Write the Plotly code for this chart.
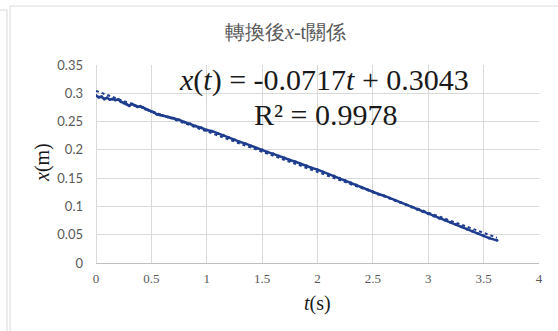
import plotly.graph_objects as go

# ---- data ----
t_s = [0.000, 0.025, 0.050, 0.075, 0.100, 0.125, 0.150, 0.175, 0.200, 0.225,
       0.250, 0.275, 0.300, 0.325, 0.350, 0.375, 0.400, 0.425, 0.450, 0.475,
       0.500, 0.525, 0.550, 0.575, 0.600,
       0.65, 0.70, 0.75, 0.80, 0.85, 0.90, 0.95, 1.00, 1.05, 1.10, 1.15, 1.20,
       1.25, 1.30, 1.35, 1.40, 1.45, 1.50, 1.55, 1.60, 1.65, 1.70, 1.75, 1.80,
       1.85, 1.90, 1.95, 2.00, 2.05, 2.10, 2.15, 2.20, 2.25, 2.30, 2.35, 2.40,
       2.45, 2.50, 2.55, 2.60, 2.65, 2.70, 2.75, 2.80, 2.85, 2.90, 2.95, 3.00,
       3.05, 3.10, 3.15, 3.20, 3.25, 3.30, 3.35, 3.40, 3.45, 3.50, 3.55, 3.62]
x_m = [0.296, 0.293, 0.294, 0.290, 0.292, 0.289, 0.290, 0.288, 0.289, 0.285,
       0.283, 0.281, 0.278, 0.281, 0.279, 0.276, 0.277, 0.275, 0.272, 0.270,
       0.268, 0.266, 0.263, 0.262, 0.261,
       0.258, 0.256, 0.253, 0.249, 0.246, 0.242, 0.239, 0.235, 0.233, 0.229,
       0.226, 0.222, 0.218, 0.214, 0.211, 0.207, 0.203, 0.200, 0.196, 0.193,
       0.189, 0.186, 0.182, 0.179, 0.175, 0.172, 0.168, 0.165, 0.161, 0.157,
       0.154, 0.150, 0.146, 0.142, 0.138, 0.134, 0.130, 0.126, 0.122, 0.119,
       0.115, 0.111, 0.107, 0.103, 0.099, 0.095, 0.091, 0.087, 0.083, 0.079,
       0.076, 0.072, 0.068, 0.064, 0.060, 0.056, 0.052, 0.048, 0.044, 0.040]

fit_slope = -0.0717
fit_intercept = 0.3043
r_squared = 0.9978

x_ticks = [0, 0.5, 1, 1.5, 2, 2.5, 3, 3.5, 4]
y_ticks = [0, 0.05, 0.1, 0.15, 0.2, 0.25, 0.3, 0.35]

title_text = "轉換後<i>x</i>-t關係"
x_title = "<i>t</i>(s)"
y_title = "<i>x</i>(m)"

# ---- figure ----
W, H = 558, 331
L, R, T, B = 96, 19, 65, 68
pw, ph = W - L - R, H - T - B

def px(xp):
    return (xp - L) / pw

def py(yp):
    return (H - B - yp) / ph

blue = "#1f3d8e"
grid = "#d9d9d9"
txt = "#595959"
serif = "Liberation Serif"
sans = "Lato"

fig = go.Figure()

t_fit = [t_s[0], t_s[-1]]
fig.add_trace(go.Scatter(
    x=t_fit, y=[fit_intercept + fit_slope * t for t in t_fit],
    mode="lines", line=dict(color=blue, width=2, dash="dot"),
    hoverinfo="skip", showlegend=False))

fig.add_trace(go.Scatter(
    x=t_s, y=x_m, mode="lines+markers",
    line=dict(color=blue, width=2.5),
    marker=dict(color=blue, size=3),
    showlegend=False))

fig.update_xaxes(
    range=[0, 4], tickvals=x_ticks, ticktext=[f"{v:g}" for v in x_ticks],
    showgrid=True, gridcolor=grid, gridwidth=1,
    zeroline=True, zerolinecolor=grid, zerolinewidth=1,
    showline=False, ticks="", ticklabelstandoff=6,
    tickfont=dict(family=serif, size=13, color=txt))
fig.update_yaxes(
    range=[0, 0.35], tickvals=y_ticks, ticktext=[f"{v:g}" for v in y_ticks],
    showgrid=True, gridcolor=grid, gridwidth=1,
    zeroline=True, zerolinecolor="#bfbfbf", zerolinewidth=1,
    showline=False, ticks="", ticklabelstandoff=12,
    tickfont=dict(family=sans, size=13, color=txt))

annotations = [
    dict(text=title_text, x=px(285), y=py(32), font=dict(family=serif, size=20, color=txt)),
    dict(text=f"<i>x</i>(<i>t</i>) = {fit_slope}<i>t</i> + {fit_intercept}",
         x=px(324), y=py(80), font=dict(family=serif, size=30, color="#1a1a1a")),
    dict(text=f"R² = {r_squared}", x=px(325), y=py(114),
         font=dict(family=serif, size=30, color="#1a1a1a")),
    dict(text=y_title, x=px(42), y=py(163), textangle=-90,
         font=dict(family=serif, size=20, color="#1a1a1a")),
    dict(text=x_title, x=px(317), y=py(303),
         font=dict(family=serif, size=20, color="#1a1a1a")),
]
for a in annotations:
    a.update(xref="paper", yref="paper", showarrow=False, xanchor="center", yanchor="middle")

frame = "#d9d9d9"
shapes = [
    dict(type="line", x0=px(10), x1=px(10), y0=py(6), y1=py(340), line=dict(color=frame, width=1)),
    dict(type="line", x0=px(10), x1=px(570), y0=py(6), y1=py(6), line=dict(color=frame, width=1)),
    dict(type="line", x0=px(7), x1=px(7), y0=py(10), y1=py(340), line=dict(color=frame, width=1)),
    dict(type="line", x0=px(-5), x1=px(7), y0=py(10), y1=py(10), line=dict(color=frame, width=1)),
]
for s in shapes:
    s.update(xref="paper", yref="paper")

fig.update_layout(
    width=W, height=H, margin=dict(l=L, r=R, t=T, b=B),
    paper_bgcolor="white", plot_bgcolor="white",
    annotations=annotations, shapes=shapes, showlegend=False)

fig.write_html("out.html", config={"displayModeBar": False},
               post_script="document.body.style.margin='0';document.body.style.overflow='hidden';")
